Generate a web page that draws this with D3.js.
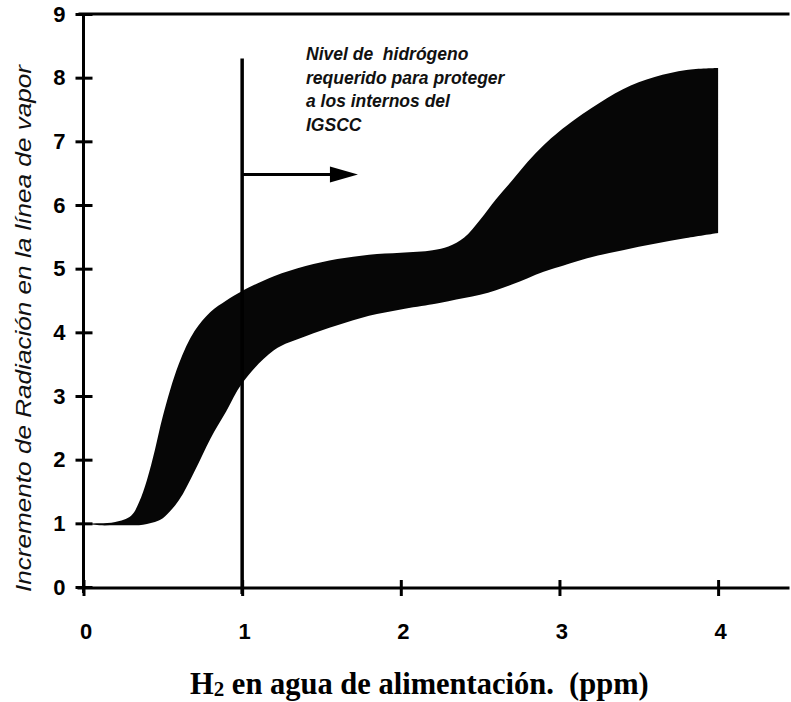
<!DOCTYPE html>
<html>
<head>
<meta charset="utf-8">
<script src="https://cdn.jsdelivr.net/npm/d3@7"></script>
<style>
  html, body { margin: 0; padding: 0; background: #fff; }
  svg { display: block; }
  text { white-space: pre; }
</style>
</head>
<body>
<svg id="chart" width="791" height="702"></svg>
<script>
// Values
const xTicks = [0, 1, 2, 3, 4]
const yTicks = [0, 1, 2, 3, 4, 5, 6, 7, 8, 9]
const h2Ppm = [0, 0.1, 0.2, 0.3, 0.35, 0.4, 0.45, 0.5, 0.6, 0.7, 0.8, 0.9, 1.0, 1.2, 1.4, 1.6, 1.8, 2.0, 2.2, 2.3, 2.4, 2.5, 2.6, 2.7, 2.8, 2.9, 3.0, 3.2, 3.4, 3.6, 3.8, 4.0]
const radUpper = [1.0, 1.0, 1.02, 1.12, 1.33, 1.68, 2.15, 2.68, 3.5, 4.02, 4.32, 4.5, 4.65, 4.88, 5.04, 5.15, 5.22, 5.25, 5.29, 5.35, 5.49, 5.77, 6.09, 6.38, 6.68, 6.94, 7.16, 7.52, 7.82, 8.01, 8.12, 8.15]
const radLower = [1.0, 0.97, 0.97, 0.97, 0.97, 0.99, 1.02, 1.08, 1.36, 1.82, 2.33, 2.76, 3.2, 3.72, 3.94, 4.11, 4.26, 4.36, 4.44, 4.49, 4.54, 4.59, 4.66, 4.75, 4.85, 4.95, 5.03, 5.18, 5.29, 5.39, 5.48, 5.56]

const noteLines = ["Nivel de  hidrógeno", "requerido para proteger", "a los internos del", "IGSCC"]
const h2Level = 1      // vertical marker
const arrowLevel = 6.48
const arrowEnd = 1.73

const svg = d3.select("#chart")

const x = d3.scaleLinear().domain([0, 4.45]).range([83.5, 789.5])
const y = d3.scaleLinear().domain([0, 9]).range([587, 14])

const band = h2Ppm.map((v, i) => ({x: v, hi: radUpper[i], lo: radLower[i]}))

const area = d3.area()
  .x(d => x(d.x))
  .y0(d => y(d.lo))
  .y1(d => y(d.hi))
  .curve(d3.curveCatmullRom.alpha(0.5))

svg.append("path")
  .datum(band)
  .attr("d", area)
  .attr("fill", "#060606")

// top frame line
svg.append("line")
  .attr("x1", x(0) - 5).attr("x2", x(4.45))
  .attr("y1", y(9)).attr("y2", y(9))
  .attr("stroke", "#000").attr("stroke-width", 3)

// y axis
const yAxis = svg.append("g")
  .attr("transform", `translate(${x(0)},0)`)
  .call(d3.axisLeft(y).tickValues(yTicks).tickSize(0).tickSizeOuter(0).tickPadding(18))
yAxis.select(".domain").attr("stroke-width", 3)
  .attr("d", `M0,${y(9)}V${y(0) + 6}`)
yAxis.selectAll(".tick line").attr("x1", -8).attr("x2", 9).attr("stroke-width", 3)
yAxis.selectAll(".tick text")
  .attr("font-family", "'Liberation Sans', Arial, sans-serif")
  .attr("font-weight", "bold")
  .attr("font-size", 22)
  .attr("fill", "#000")

// x axis
const xAxis = svg.append("g")
  .attr("transform", `translate(0,${y(0) + 1})`)
  .call(d3.axisBottom(x).tickValues(xTicks).tickSize(0).tickSizeOuter(0).tickFormat(d3.format("d")))
xAxis.select(".domain").attr("stroke-width", 3)
  .attr("d", `M${x(0) - 6},0H${x(4.45)}`)
xAxis.selectAll(".tick line").attr("y1", -8).attr("y2", 8).attr("stroke-width", 3)
xAxis.selectAll(".tick text")
  .attr("y", 35)
  .attr("dx", 2)
  .attr("font-family", "'Liberation Sans', Arial, sans-serif")
  .attr("font-weight", "bold")
  .attr("font-size", 22)
  .attr("fill", "#000")

// vertical marker at 1 ppm and arrow
svg.append("line")
  .attr("x1", x(h2Level)).attr("x2", x(h2Level))
  .attr("y1", y(8.3)).attr("y2", y(0) + 7)
  .attr("stroke", "#000").attr("stroke-width", 3.5)

svg.append("line")
  .attr("x1", x(h2Level)).attr("x2", x(arrowEnd) - 20)
  .attr("y1", y(arrowLevel)).attr("y2", y(arrowLevel))
  .attr("stroke", "#000").attr("stroke-width", 3)

const tipX = x(arrowEnd), tipY = y(arrowLevel)
svg.append("path")
  .attr("d", `M${tipX},${tipY}L${tipX - 28},${tipY - 8}L${tipX - 28},${tipY + 8}Z`)
  .attr("fill", "#000")

// note
const note = svg.append("text")
  .attr("font-family", "'Liberation Sans', Arial, sans-serif")
  .attr("font-style", "italic")
  .attr("font-weight", "bold")
  .attr("font-size", 17.5)
  .attr("fill", "#111")
note.selectAll("tspan")
  .data(noteLines)
  .join("tspan")
  .attr("x", 306)
  .attr("y", (d, i) => 60 + i * 23.5)
  .text(d => d)

// y title
svg.append("text")
  .attr("transform", `translate(31,${(y(9) + y(0)) / 2 + 28}) rotate(-90)`)
  .attr("text-anchor", "middle")
  .attr("font-family", "'Liberation Sans', Arial, sans-serif")
  .attr("font-style", "italic")
  .attr("font-size", 22)
  .attr("textLength", 527)
  .attr("lengthAdjust", "spacingAndGlyphs")
  .attr("fill", "#111")
  .text("Incremento de Radiación en la línea de vapor")

// x title
const xt = svg.append("text")
  .attr("x", 190)
  .attr("y", 694)
  .attr("font-family", "'Liberation Serif', 'Times New Roman', serif")
  .attr("font-weight", "bold")
  .attr("font-size", 30.5)
  .attr("fill", "#000")
xt.append("tspan").text("H")
xt.append("tspan").attr("font-size", 21).attr("dy", 2).text("2")
xt.append("tspan").attr("dy", -2).text(" en agua de alimentación.  (ppm)")
</script>
</body>
</html>
